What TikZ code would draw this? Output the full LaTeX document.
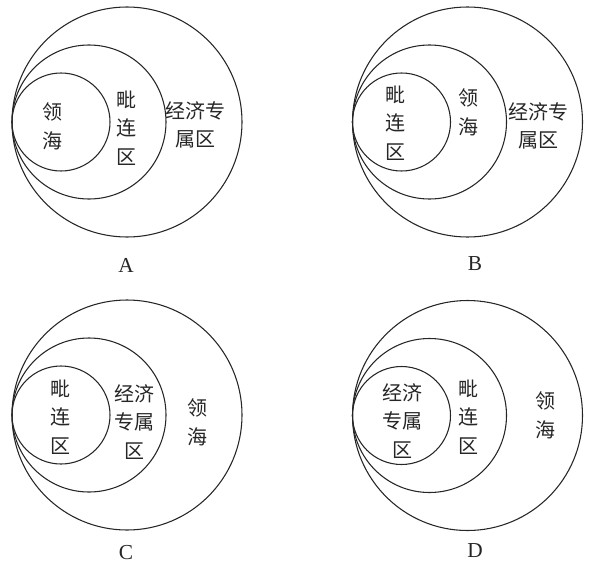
\documentclass[tikz,border=0pt]{standalone}
\usepackage{fontspec}
\setmainfont{Liberation Serif}
\newfontfamily\cjk{Noto Sans CJK SC}
\begin{document}
\begin{tikzpicture}[x=0.75pt,y=-0.75pt,
  ring/.style={draw=black!85,line width=0.8pt},
  zone/.style={font=\cjk\fontsize{15}{21.5}\selectfont,align=center,inner sep=0pt,text=black!85},
  tag/.style={font=\fontsize{16}{18}\selectfont,inner sep=0pt,text=black!85}]
\useasboundingbox (0,0) rectangle (591,567);
% ---- A ----
\draw[ring] (127,122) circle[radius=86.25pt];
\draw[ring] (89,122) circle[radius=57.75pt];
\draw[ring] (61,122) circle[radius=36.75pt];
\node[zone] (a1) at (52,126) {领\\海};
\node[zone] (a2) at (126,128) {毗\\连\\区};
\node[zone] (a3) at (195,125) {经济专\\属区};
\node[tag] (la) at (126,265) {A};
% ---- B ----
\draw[ring] (467.5,122) circle[radius=86.25pt];
\draw[ring] (429.5,122) circle[radius=57.75pt];
\draw[ring] (401.5,122) circle[radius=36.75pt];
\node[zone] (b1) at (395,123) {毗\\连\\区};
\node[zone] (b2) at (468,112) {领\\海};
\node[zone] (b3) at (538,126) {经济专\\属区};
\node[tag] (lb) at (475,264) {B};
% ---- C ----
\draw[ring] (127,415) circle[radius=86.25pt];
\draw[ring] (89,415) circle[radius=57.75pt];
\draw[ring] (61,415) circle[radius=36.75pt];
\node[zone] (c1) at (60,417) {毗\\连\\区};
\node[zone] (c2) at (134,422) {经济\\专属\\区};
\node[zone] (c3) at (197,422) {领\\海};
\node[tag] (lc) at (126,553) {C};
% ---- D ----
\draw[ring] (467.5,415.5) circle[radius=86.25pt];
\draw[ring] (429.5,415.5) circle[radius=57.75pt];
\draw[ring] (401.5,415.5) circle[radius=36.75pt];
\node[zone] (d1) at (402,421) {经济\\专属\\区};
\node[zone] (d2) at (468,417) {毗\\连\\区};
\node[zone] (d3) at (545,415) {领\\海};
\node[tag] (ld) at (475,551) {D};
\end{tikzpicture}
\end{document}
